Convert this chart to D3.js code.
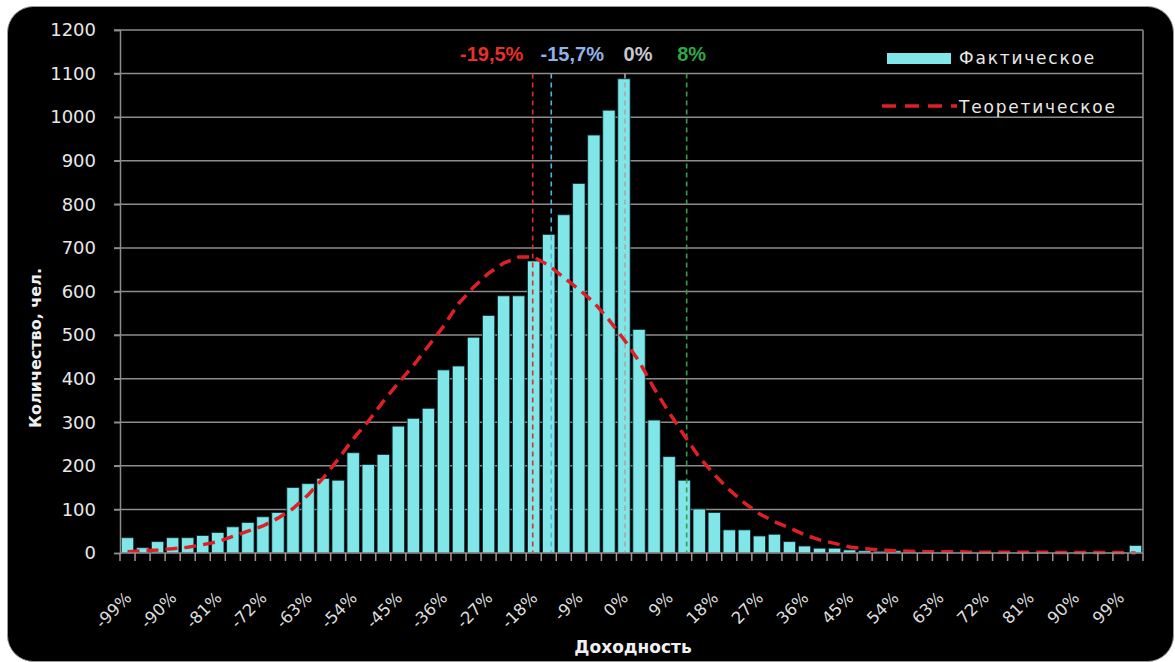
<!DOCTYPE html>
<html><head><meta charset="utf-8">
<script src="https://cdn.jsdelivr.net/npm/d3@7"></script>
<style>body{margin:0;background:#fff;overflow:hidden}</style>
</head><body><svg id="c" width="1175" height="662"></svg>
<script>
const categories = ["-99%","-96%","-93%","-90%","-87%","-84%","-81%","-78%","-75%","-72%","-69%","-66%","-63%","-60%","-57%","-54%","-51%","-48%","-45%","-42%","-39%","-36%","-33%","-30%","-27%","-24%","-21%","-18%","-15%","-12%","-9%","-6%","-3%","0%","3%","6%","9%","12%","15%","18%","21%","24%","27%","30%","33%","36%","39%","42%","45%","48%","51%","54%","57%","60%","63%","66%","69%","72%","75%","78%","81%","84%","87%","90%","93%","96%","99%","102%"];
const actual = [35,12,26,35,35,40,47,60,70,83,93,150,159,171,167,230,203,226,291,309,332,420,429,495,545,590,590,670,731,776,848,959,1016,1088,513,305,221,167,101,93,53,53,39,43,26,16,11,11,7,5,4,5,3,2,2,2,2,2,1,1,1,1,1,1,1,1,1,17];
const theoretical = [3,5,7,10,13,19,26,38,50,62,80,102,133,172,215,262,302,348,390,430,475,520,572,610,642,665,679,679,660,632,605,575,535,490,440,378,322,270,220,180,145,115,90,72,58,42,30,22,14,10,7,5,4,3,3,3,2,2,2,2,2,2,1,1,1,1,1,0];
const yTicks = [0,100,200,300,400,500,600,700,800,900,1000,1100,1200];
const markerLabels = ["-19,5%","-15,7%","0%","8%"];
const markerPositions = [-18.2,-14.5,0.2,12.5];
const seriesNames = ["Фактическое","Теоретическое"];
const xTitle = "Доходность";
const yTitle = "Количество, чел.";

const svg = d3.select("#c");
const L = 120, R = 1143, T = 30, B = 553;

// frame
svg.append("rect").attr("x",7.5).attr("y",6.5).attr("width",1166).attr("height",655)
  .attr("rx",26).attr("fill","#000").attr("stroke","#9a9a9a").attr("stroke-width",1);

const x = d3.scaleBand().domain(categories).range([L,R]).paddingInner(0.18).paddingOuter(0.09);
const bw = x.bandwidth(), step = x.step();
const cx = c => x(c) + bw/2;
const y = d3.scaleLinear().domain([0,1200]).range([B,T]);
const xv = d3.scaleLinear().domain([-99,102]).range([cx(categories[0]), cx(categories[categories.length-1])]);

// gridlines
svg.append("g").selectAll("line").data(yTicks.filter(d=>d>0)).join("line")
  .attr("x1",L-6).attr("x2",R).attr("y1",d=>y(d)).attr("y2",d=>y(d))
  .attr("stroke","#8c8c8c").attr("stroke-width",1.5);
svg.append("line").attr("x1",R).attr("x2",R).attr("y1",T).attr("y2",B).attr("stroke","#8c8c8c").attr("stroke-width",1.5);

// bars
svg.append("g").selectAll("rect").data(actual).join("rect")
  .attr("x",(d,i)=>x(categories[i])).attr("width",bw)
  .attr("y",d=>y(d)).attr("height",d=>B-y(d))
  .attr("fill","#80e6e8").attr("stroke","#0d2f36").attr("stroke-width",0.8);

// marker lines
const mColors = ["#d83030","#4fb4e0","#a8a8a8","#3a9a50"];
const lblColors = ["#e63028","#8eb4e6","#c8c8d2","#2ea845"];
const lblOffsets = [-41,21,13,5];
svg.append("g").selectAll("line").data(markerPositions).join("line")
  .attr("x1",d=>xv(d)).attr("x2",d=>xv(d)).attr("y1",y(1100)).attr("y2",B)
  .attr("stroke",(d,i)=>mColors[i]).attr("stroke-width",1.6).attr("stroke-dasharray","5,4");
svg.append("g").selectAll("text").data(markerLabels).join("text")
  .attr("x",(d,i)=>xv(markerPositions[i])+lblOffsets[i]).attr("y",61)
  .attr("text-anchor","middle").attr("font-family","Liberation Sans, Arial, sans-serif")
  .attr("font-weight","bold").attr("font-size",20).attr("fill",(d,i)=>lblColors[i]).text(d=>d);

// theoretical curve
const line = d3.line().x((d,i)=>cx(categories[i])).y(d=>y(d));
svg.append("path").datum(theoretical).attr("d",line).attr("fill","none")
  .attr("stroke","#dc2026").attr("stroke-width",3.5).attr("stroke-dasharray","12,7");

// y axis
const ya = svg.append("g").attr("transform",`translate(${L},0)`)
  .call(d3.axisLeft(y).tickValues(yTicks).tickFormat(d3.format("d")).tickSize(6).tickPadding(18));
ya.select(".domain").attr("stroke","#8c8c8c").attr("stroke-width",1.5);
ya.selectAll(".tick line").attr("stroke","#8c8c8c").attr("stroke-width",1.5);
ya.selectAll("text").attr("fill","#e8e8e8").attr("font-size",18).attr("font-family","DejaVu Sans, sans-serif");

// x axis line + ticks at category boundaries
svg.append("line").attr("x1",L).attr("x2",R).attr("y1",B).attr("y2",B).attr("stroke","#8c8c8c").attr("stroke-width",1.5);
const bounds = categories.map(c => x(c) - step*0.09).concat([R]);
svg.append("g").selectAll("line").data(bounds).join("line")
  .attr("x1",d=>d).attr("x2",d=>d).attr("y1",B).attr("y2",B+8)
  .attr("stroke","#a89494").attr("stroke-width",1.5);
const xa = svg.append("g").attr("transform",`translate(0,${B})`)
  .call(d3.axisBottom(x).tickValues(categories.filter((c,i)=>i%3===0 && i<67)).tickSize(0));
xa.select(".domain").remove();
xa.selectAll("text").attr("x",0).attr("y",0).attr("dy",0)
  .attr("transform","translate(5,46) rotate(-45)").attr("text-anchor","end")
  .attr("fill","#dcdcdc").attr("font-size",16.5).attr("font-family","DejaVu Sans, sans-serif");

// titles
svg.append("text").attr("x",633).attr("y",653).attr("text-anchor","middle")
  .attr("font-family","DejaVu Sans, sans-serif").attr("font-weight","bold").attr("font-size",17)
  .attr("fill","#f0f0f0").text(xTitle);
svg.append("text").attr("transform","translate(41,348) rotate(-90)").attr("text-anchor","middle")
  .attr("font-family","DejaVu Sans, sans-serif").attr("font-weight","bold").attr("font-size",16)
  .attr("fill","#f0f0f0").text(yTitle);

// legend
const lg = svg.append("g");
lg.append("rect").attr("x",887).attr("y",53).attr("width",64).attr("height",11).attr("fill","#80e6e8");
lg.append("line").attr("x1",882).attr("x2",957).attr("y1",106).attr("y2",106)
  .attr("stroke","#dc2026").attr("stroke-width",3.5).attr("stroke-dasharray","14,9");
lg.selectAll("text").data(seriesNames).join("text")
  .attr("x",959).attr("y",(d,i)=>[64,113][i])
  .attr("font-family","DejaVu Sans, sans-serif").attr("font-size",17).attr("letter-spacing",1.8)
  .attr("fill","#e8e8e8").text(d=>d);
</script></body></html>
